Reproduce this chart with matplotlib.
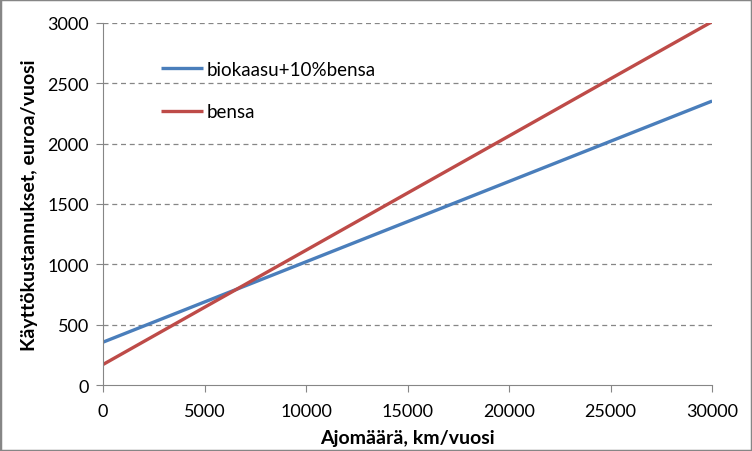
import matplotlib
matplotlib.use('Agg')
import matplotlib.pyplot as plt
import numpy as np

plt.rcParams['font.family'] = ['Lato', 'DejaVu Sans']

# ajomäärä km/vuosi ja käyttökustannukset euroa/vuosi
km = [0, 5000, 10000, 15000, 20000, 25000, 30000]
biokaasu = [355, 688, 1021, 1354, 1687, 2020, 2353]
bensa = [170, 644, 1117, 1591, 2064, 2538, 3011]

fig = plt.figure(figsize=(7.52, 4.52), dpi=100)
ax = fig.add_axes([0.137, 0.146, 0.810, 0.801])

ax.plot(km, biokaasu, color='#4A7EBB', lw=2.4, label='biokaasu+10%bensa', solid_capstyle='butt')
ax.plot(km, bensa, color='#BE4B48', lw=2.4, label='bensa', solid_capstyle='butt')

ax.set_xlim(0, 30000)
ax.set_ylim(0, 3000)
ax.set_xticks(np.arange(0, 30001, 5000))
ax.set_yticks(np.arange(0, 3001, 500))
for y in np.arange(500, 3001, 500):
    ax.axhline(y, color='#868686', lw=0.9, ls=(0, (4, 3)), zorder=0)

for s in ['top', 'right']:
    ax.spines[s].set_visible(False)
for s in ['left', 'bottom']:
    ax.spines[s].set_color('#868686')
ax.tick_params(direction='out', length=5, color='#868686', labelsize=13, labelcolor='black')
ax.tick_params(axis='x', pad=8)
ax.tick_params(axis='y', pad=5)

ax.set_xlabel('Ajomäärä, km/vuosi', fontsize=14, fontweight='bold', labelpad=7)
ax.set_ylabel('Käyttökustannukset, euroa/vuosi', fontsize=14, fontweight='bold', labelpad=7)

ax.legend(loc='upper left', bbox_to_anchor=(0.095, 0.895), frameon=False, fontsize=13.5,
          borderpad=0, borderaxespad=0,
          handlelength=2.25, handletextpad=0.2, labelspacing=1.35)

fig.patches.append(plt.Rectangle((0, 0), 1, 1, transform=fig.transFigure, fill=False,
                                 edgecolor='#868686', lw=2.5))

fig.savefig('out.png', dpi=100)
